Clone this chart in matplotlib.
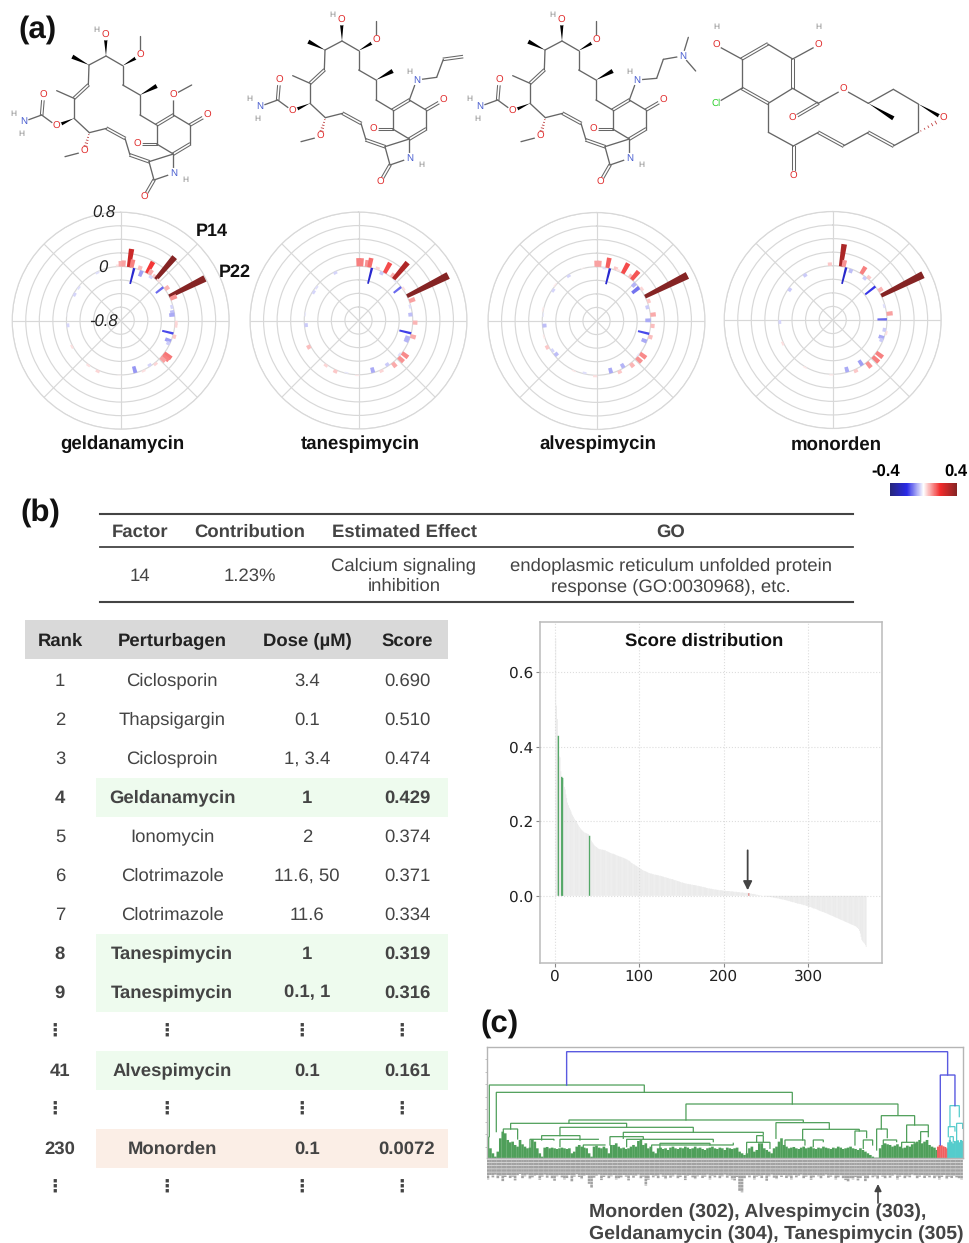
import numpy as np
import matplotlib
matplotlib.use('Agg')
import matplotlib.pyplot as plt
from matplotlib.patches import Polygon, Rectangle
from matplotlib.cm import ScalarMappable
from matplotlib.colors import Normalize, LinearSegmentedColormap

W, H = 969, 1243
plt.rcParams['font.family'] = ['Liberation Sans', 'DejaVu Sans']
plt.rcParams['text.hinting'] = 'none'
plt.rcParams['text.hinting_factor'] = 8

# ---- radial bars: factor index (clockwise from north, 125 positions) / loading
gel_idx = [124, 0, 1, 3, 4, 5, 7, 8, 10, 11, 12, 13, 14, 15, 18, 19, 22, 23, 26, 28, 29, 32, 33, 36, 37, 39, 40,
           44, 45, 46, 51, 49, 57, 54, 63, 71, 75, 84, 92, 96, 104, 107, 116]
gel_val = [0.03, 0.08, 0.09, 0.27, 0.12, -0.24, 0.06, -0.09, 0.19, 0.08, -0.04, 0.05, 0.43, 0.03, -0.14, 0.07, 0.59,
           0.10, -0.04, -0.06, -0.08, 0.04, 0.04, -0.17, 0.05, -0.09, -0.05, 0.13, 0.12, 0.09, -0.04, 0.04, -0.10,
           0.03, 0.01, 0.04, 0.03, 0.03, -0.04, -0.01, -0.04, -0.03, -0.03]
tan_idx = [0, 1, 3, 4, 5, 7, 9, 10, 13, 14, 15, 18, 19, 22, 24, 26, 29, 32, 36, 37, 38, 39, 44, 45, 46, 49, 51, 54,
           57, 63, 67, 71, 75, 84, 92, 96, 105, 107, 116]
tan_val = [0.12, 0.12, 0.10, 0.14, -0.24, 0.04, -0.05, 0.17, 0.07, 0.32, -0.02, -0.14, 0.03, 0.68, 0.09, -0.03, -0.06,
           0.07, -0.18, 0.08, -0.07, -0.07, 0.11, -0.03, 0.10, 0.08, -0.05, 0.04, -0.08, 0.02, -0.02, 0.05, 0.04,
           0.06, -0.05, -0.02, -0.04, -0.03, -0.04]
alv_idx = [0, 1, 3, 4, 5, 7, 8, 10, 13, 14, 16, 18, 19, 22, 24, 26, 29, 31, 33, 36, 37, 39, 44, 45, 46, 49, 52, 54,
           57, 63, 67, 71, 80, 82, 84, 88, 92, 96, 98, 106, 108, 114, 120]
alv_val = [0.09, 0.09, -0.03, 0.15, -0.24, 0.05, 0.03, 0.17, 0.06, 0.16, -0.07, -0.13, 0.04, 0.70, 0.05, -0.05, 0.08,
           -0.08, 0.06, -0.17, 0.06, -0.08, 0.11, -0.02, 0.10, 0.07, -0.07, 0.05, -0.08, 0.03, -0.03, 0.02, -0.06,
           -0.04, 0.05, 0.02, -0.06, -0.02, 0.02, -0.04, 0.02, -0.04, 0.01]
mon_idx = [124, 3, 4, 5, 7, 11, 13, 14, 18, 20, 22, 26, 29, 31, 35, 36, 38, 39, 44, 46, 49, 51, 54, 57, 63, 73, 85,
           93, 106, 114]
mon_val = [0.05, 0.33, 0.10, -0.25, -0.06, 0.12, -0.05, 0.05, -0.19, 0.07, 0.69, -0.03, 0.09, -0.14, -0.05, 0.03,
           -0.08, -0.05, 0.12, 0.12, 0.10, -0.09, 0.05, -0.08, 0.02, 0.02, 0.03, -0.04, -0.05, -0.05]
compounds = ['geldanamycin', 'tanespimycin', 'alvespimycin', 'monorden']

# ---- tables
top_head = ['Factor', 'Contribution', 'Estimated Effect', 'GO']
top_body = ['14', '1.23%', 'Calcium signaling\ninhibition',
            'endoplasmic reticulum unfolded protein\nresponse (GO:0030968), etc.']
rank_head = ['Rank', 'Perturbagen', 'Dose (\u00b5M)', 'Score']
ranks = ['1', '2', '3', '4', '5', '6', '7', '8', '9', '\u22ee', '41', '\u22ee', '230', '\u22ee']
perts = ['Ciclosporin', 'Thapsigargin', 'Ciclosproin', 'Geldanamycin', 'Ionomycin', 'Clotrimazole', 'Clotrimazole',
         'Tanespimycin', 'Tanespimycin', '\u22ee', 'Alvespimycin', '\u22ee', 'Monorden', '\u22ee']
doses = ['3.4', '0.1', '1, 3.4', '1', '2', '11.6, 50', '11.6', '1', '0.1, 1', '\u22ee', '0.1', '\u22ee', '0.1', '\u22ee']
table_scores = ['0.690', '0.510', '0.474', '0.429', '0.374', '0.371', '0.334', '0.319', '0.316', '\u22ee', '0.161',
                '\u22ee', '0.0072', '\u22ee']
bold_rows = [3, 7, 8, 10, 12]

# ---- score distribution (rank 1..369)
scores = [.690,.510,.474,.429,.374,.371,.334,.319,.316,.300,
 .292,.285,.272,.262,.250,.243,.236,.231,.226,.220,
 .216,.212,.207,.203,.200,.197,.193,.189,.185,.181,
 .178,.176,.174,.172,.170,.169,.168,.167,.166,.165,
 .161,.153,.148,.144,.141,.138,.135,.133,.131,.129,
 .127,.126,.125,.125,.124,.124,.123,.123,.122,.122,
 .120,.119,.118,.117,.116,.115,.114,.113,.113,.112,
 .111,.110,.109,.108,.107,.106,.105,.105,.104,.103,
 .102,.101,.100,.099,.098,.097,.095,.094,.092,.090,
 .088,.087,.085,.084,.082,.081,.080,.078,.077,.075,
 .073,.072,.071,.069,.068,.067,.066,.065,.064,.063,
 .062,.061,.060,.060,.059,.058,.058,.057,.057,.056,
 .056,.055,.055,.054,.054,.053,.052,.052,.051,.050,
 .050,.049,.048,.048,.047,.046,.046,.045,.045,.044,
 .043,.042,.042,.041,.040,.039,.039,.038,.037,.036,
 .036,.035,.034,.034,.033,.033,.032,.032,.031,.031,
 .031,.030,.030,.029,.029,.029,.028,.028,.027,.027,
 .026,.026,.025,.025,.024,.024,.023,.023,.022,.021,
 .021,.020,.020,.019,.019,.019,.018,.018,.017,.017,
 .017,.016,.016,.016,.015,.015,.015,.015,.014,.014,
 .014,.014,.013,.013,.013,.013,.013,.012,.012,.012,
 .012,.011,.011,.011,.011,.010,.010,.010,.010,.009,
 .009,.009,.009,.008,.008,.008,.008,.008,.007,.0072,
 .007,.006,.006,.005,.005,.005,.004,.004,.003,.003,
 .002,.002,.001,.001,.001,.000,.000,-.001,-.001,-.001,
 -.002,-.002,-.002,-.003,-.003,-.003,-.004,-.004,-.005,-.005,
 -.005,-.006,-.006,-.007,-.007,-.008,-.008,-.009,-.009,-.010,
 -.010,-.011,-.011,-.012,-.012,-.013,-.014,-.014,-.015,-.016,
 -.016,-.017,-.017,-.018,-.019,-.019,-.020,-.021,-.021,-.022,
 -.022,-.023,-.023,-.024,-.025,-.025,-.026,-.027,-.027,-.028,
 -.029,-.030,-.030,-.031,-.032,-.033,-.034,-.034,-.035,-.036,
 -.037,-.038,-.039,-.040,-.041,-.042,-.043,-.043,-.044,-.045,
 -.046,-.047,-.048,-.049,-.050,-.051,-.052,-.053,-.054,-.055,
 -.056,-.057,-.058,-.059,-.060,-.061,-.062,-.063,-.064,-.065,
 -.066,-.067,-.068,-.069,-.070,-.071,-.072,-.073,-.074,-.075,
 -.076,-.077,-.078,-.079,-.080,-.081,-.082,-.084,-.086,-.089,
 -.094,-.101,-.110,-.118,-.122,-.125,-.128,-.132,-.137]
green_ranks = [4, 8, 9, 41]
red_ranks = [230]

# ---- dendrogram links: left x, right x, merge depth, left leg end, right leg end
green_links = [(28,493,240,395,262), (49,937,262,380,297), (618,1254,297,345,330), (267,970,345,355,352),
               (92,440,355,372,367), (70,113,372,405,402), (240,640,367,392,382), (185,300,392,405,405),
               (150,222,403,430,405), (430,850,382,400,388), (390,490,395,420,402), (440,700,403,425,410),
               (240,355,403,425,403), (310,375,420,440,420), (515,760,420,440,415), (540,690,415,440,420),
               (830,850,392,410,410), (800,870,412,445,430), (888,1048,353,400,372), (968,1138,373,405,378),
               (1000,1030,405,425,410), (915,975,405,425,420), (1125,1160,378,420,398), (1150,1178,405,430,420),
               (1204,1304,332,372,360), (1190,1222,372,435,398), (1210,1250,405,430,410), (1280,1345,360,410,380),
               (1265,1305,412,430,425), (1322,1345,380,410,395)]
blue_links = [(260,1403,140,240,210), (1381,1425,210,420,302)]
cyan_links = [(1410,1438,302,365,335), (1405,1425,365,395,378), (1430,1448,355,410,370), (1410,1420,395,410,410)]
# leaf cluster tops, one for each 7.4 units from x=24
leaf_tops = [395,430,445,455,440,400,380,385,405,412,410,
 420,425,405,418,425,430,428,402,410,430,
 445,455,428,426,430,428,430,432,430,428,
 430,432,430,445,440,425,420,425,428,430,
 445,455,425,422,428,430,425,430,445,420,
 420,415,425,430,428,432,430,425,420,425,
 408,405,420,415,430,425,440,445,430,428,
 432,430,435,428,425,430,432,428,430,425,
 428,432,430,425,430,428,432,435,430,428,
 425,430,432,428,430,435,428,430,432,430,
 428,440,445,450,445,430,425,440,435,415,
 415,430,435,440,445,430,425,410,400,420,
 425,430,428,426,430,432,428,425,430,428,
 425,430,432,428,430,425,428,430,432,428,
 430,425,428,432,430,428,425,430,432,435,
 430,435,440,445,450,455,458,458,430,420,
 415,418,420,425,422,418,425,430,428,422,
 425,418,415,410,405,415,410,405,420,425,428,435]
red_tops = [425,420,421,424,426,430]
cyan_tops = [412,405,410,415,408,410,406,412,405,408]
# how far the unreadable rotated leaf names reach
label_ends = [522,510,516,508,520,512,527,515,509,518,514,525,511,506,519,513,508,521,516,512,
 510,523,514,508,517,511,520,526,513,509,516,522,518,510,528,514,507,515,521,512,
 510,535,546,517,512,508,524,515,511,519,513,510,522,520,516,509,514,525,511,517,
 512,508,520,514,540,523,510,516,512,519,508,514,521,511,517,513,508,520,515,510,
 524,512,509,516,521,513,510,518,514,508,522,512,516,510,519,513,508,517,512,522,
 525,515,556,560,520,511,516,509,522,514,512,518,510,526,513,508,517,521,511,515,
 509,518,513,522,510,516,512,508,519,514,511,523,516,509,513,520,512,508,517,514,
 510,522,516,511,519,524,528,520,522,515,525,518,512,527,519,510,516,513,521,509,
 514,520,511,517,512,508,522,514,510,519,513,516,508,511,520,514,509,518,512,516,
 510,519,513,522,515,510,521,514,518,512,516,520,522]

# ---- molecules, in zoomed pixels of the geldanamycin drawing
core_pts = dict(
    N1=(70,365), C0=(125,345), O0=(130,285), O1=(170,378), C1=(222,355), C2=(222,295), M2=(170,272), C3=(265,255),
    C4=(267,195), M4=(217,170), C5=(318,168), O5=(317,105), C6=(368,197), O6=(420,167), M6=(420,107), C7=(368,255),
    C8=(420,285), M8=(470,258), C9=(420,345), C10=(470,375), C11=(520,345), C12=(570,375), O12=(622,345),
    C13=(570,432), C14=(520,462), C15=(470,432), O15=(412,432), N2=(520,520), C16=(462,540), O16=(432,592),
    C17=(447,485), C18=(390,465), C19=(375,415), C20=(320,385), C21=(268,398), O21=(252,455), M21=(195,470))
core_single = [('N1','C0'),('C0','O1'),('C1','C2'),('C2','M2'),('C3','C4'),('C4','C5'),('C5','C6'),('C6','C7'),
               ('C7','C8'),('C8','C9'),('C9','C10'),('C11','C12'),('C12','C13'),('C10','C15'),('C14','C15'),
               ('C14','N2'),('N2','C16'),('C16','C17'),('C17','C14'),('C18','C19'),('C20','C21'),('C21','C1'),
               ('O21','M21'),('O6','M6')]
core_double = [('C0','O0'),('C2','C3'),('C10','C11'),('C12','O12'),('C13','C14'),('C15','O15'),('C16','O16'),
               ('C17','C18'),('C19','C20')]
core_wedge = [('C1','O1'),('C4','M4'),('C5','O5'),('C6','O6'),('C8','M8')]
core_hash = [('C21','O21')]
core_labels = [('N1','N','#4a5fd0'),('O0','O','#e03030'),('O1','O','#e03030'),('O5','O','#e03030'),
               ('O6','O','#e03030'),('O12','O','#e03030'),('O15','O','#e03030'),('N2','N','#4a5fd0'),
               ('O16','O','#e03030'),('O21','O','#e03030')]
core_h = [(40,343),(65,402),(288,90),(555,540)]

mon_pts = dict(A=(143,132), B=(218,177), C=(218,265), D=(145,310), E=(65,265), F=(65,177), OB=(295,135),
               OF=(-12,135), CL=(-12,310), E1=(295,310), E2=(218,355), E3=(370,268), E4=(445,310), E5=(520,355),
               E6=(520,268), E7=(595,312), E8=(670,355), E9=(595,397), E10=(520,438), E11=(445,397), E12=(370,438),
               E13=(295,397), E14=(220,438), E15=(220,528), E16=(145,397))
mon_single = [('A','B'),('C','D'),('E','F'),('B','OB'),('F','OF'),('E','CL'),('C','E1'),('E1','E3'),('E3','E4'),
              ('E4','E6'),('E6','E7'),('E7','E9'),('E9','E10'),('E11','E12'),('E13','E14'),('E14','E16'),('E16','D')]
mon_double = [('A','F'),('B','C'),('D','E'),('E1','E2'),('E10','E11'),('E12','E13'),('E14','E15')]
mon_wedge = [('E4','E5'),('E7','E8')]
mon_hash = [('E9','E8')]
mon_labels = [('OB','O','#e03030'),('OF','O','#e03030'),('CL','Cl','#30d030'),('E2','O','#e03030'),
              ('E3','O','#e03030'),('E8','O','#e03030'),('E15','O','#e03030')]

fig = plt.figure(figsize=(W / 100, H / 100), dpi=100)


def px_axes(x0, y0, x1, y1, **kw):
    return fig.add_axes([x0 / W, 1 - y1 / H, (x1 - x0) / W, (y1 - y0) / H], **kw)


bg = px_axes(0, 0, W, H)
bg.set_xlim(0, W)
bg.set_ylim(H, 0)
bg.axis('off')
# labels that sit on top of the radial panels
fg = px_axes(0, 0, W, H, zorder=10)
fg.set_xlim(0, W)
fg.set_ylim(H, 0)
fg.axis('off')
BOND = '#666666'


def draw_mol(pts, single, double, wedge, hashed, labels, ox, oy, extra_h=()):
    to_px = lambda p: (ox + p[0] / 3, oy + p[1] / 3)
    for a, b in single:
        p, q = to_px(pts[a]), to_px(pts[b])
        bg.plot([p[0], q[0]], [p[1], q[1]], color=BOND, lw=0.95, zorder=2, solid_capstyle='round')
    for a, b in double:
        p, q = np.array(to_px(pts[a])), np.array(to_px(pts[b]))
        n = np.array([q[1] - p[1], p[0] - q[0]])
        n = n / np.hypot(*n) * 1.3
        for s in (-1, 1):
            bg.plot([p[0] + s * n[0], q[0] + s * n[0]], [p[1] + s * n[1], q[1] + s * n[1]], color=BOND, lw=0.75, zorder=2)
    for a, b in wedge:
        p, q = np.array(to_px(pts[a])), np.array(to_px(pts[b]))
        n = np.array([q[1] - p[1], p[0] - q[0]])
        n = n / np.hypot(*n) * 2.2
        bg.add_patch(Polygon([p, q + n, q - n], color='black', lw=0, zorder=2))
    for a, b in hashed:
        p, q = np.array(to_px(pts[a])), np.array(to_px(pts[b]))
        n = np.array([q[1] - p[1], p[0] - q[0]])
        n = n / np.hypot(*n) * 2.2
        for t in np.linspace(0.1, 0.85, 6):
            c = p + (q - p) * t
            bg.plot([c[0] - n[0] * t, c[0] + n[0] * t], [c[1] - n[1] * t, c[1] + n[1] * t], color='#c04040', lw=0.6, zorder=2)
    for key, txt, col in labels:
        x, y = to_px(pts[key])
        bg.text(x, y, txt, color=col, fontsize=7, ha='center', va='center', zorder=3,
                bbox=dict(boxstyle='circle,pad=0.08', fc='white', ec='none'))
    for p in extra_h:
        x, y = to_px(p)
        bg.text(x, y, 'H', color='#888888', fontsize=6, ha='center', va='center', zorder=3)


# geldanamycin with its methoxy
gel_pts = dict(core_pts, O11=(520,285), M11=(575,255))
draw_mol(gel_pts, core_single + [('C11','O11'),('O11','M11')], core_double, core_wedge, core_hash,
         core_labels + [('O11','O','#e03030')], 0, 0, core_h)

# tanespimycin: allylamine on the quinone
tan_pts = dict(core_pts, NS=(542,285), S1=(602,277), S2=(622,223), S3=(680,215))
draw_mol(tan_pts, core_single + [('C11','NS'),('NS','S1'),('S1','S2')], core_double + [('S2','S3')], core_wedge,
         core_hash, core_labels + [('NS','N','#4a5fd0')], 240 - 4, -15, core_h + [(519,260)])

# alvespimycin: dimethylaminoethyl amine
alv_pts = dict(core_pts, NS=(542,285), S1=(602,280), S2=(622,223), NT=(680,213), T1=(697,157), T2=(719,258))
draw_mol(alv_pts, core_single + [('C11','NS'),('NS','S1'),('S1','S2'),('S2','NT'),('NT','T1'),('NT','T2')],
         core_double, core_wedge, core_hash, core_labels + [('NS','N','#4a5fd0'),('NT','N','#4a5fd0')],
         470 - 14, -15, core_h + [(520,260)])

draw_mol(mon_pts, mon_single, mon_double, mon_wedge, mon_hash, mon_labels, 720, 0, [(295,82),(-10,82)])

# ---- radial panels
cmap = LinearSegmentedColormap.from_list('key', ['#26267a', '#2a2ae6', '#ffffff', '#f22c2c', '#852424'])
norm = Normalize(-0.4, 0.4)
centres = [(120.7, 320.7), (358.5, 320.5), (596.5, 321), (832.7, 320)]
name_x = [122, 360, 598, 836]
rad = 108.5
for (cx, cy), idx, val, name, nx in zip(centres, [gel_idx, tan_idx, alv_idx, mon_idx],
                                        [gel_val, tan_val, alv_val, mon_val], compounds, name_x):
    ax = px_axes(cx - rad, cy - rad, cx + rad, cy + rad, projection='polar')
    ax.set_theta_zero_location('N')
    ax.set_theta_direction(-1)
    ax.set_ylim(-0.8, 0.8)
    ax.set_yticks(np.arange(-0.8, 0.81, 0.2))
    ax.set_xticks(np.deg2rad(np.arange(0, 360, 45)))
    ax.set_xticklabels([])
    ax.set_yticklabels([])
    ax.grid(True, color='#d8d8d8', lw=0.85)
    ax.spines['polar'].set_color('#d8d8d8')
    ax.spines['polar'].set_linewidth(0.85)
    ax.set_axisbelow(True)
    ax.patch.set_alpha(0)
    theta = np.deg2rad(np.array(idx) * 2.88)
    widths = np.deg2rad([2.6 if v < -0.13 else 4.2 for v in val])
    ax.bar(theta, val, width=widths, bottom=0, color=cmap(norm(val)), lw=0)
    bg.text(nx, 444.5, name, fontsize=13.4, fontweight='bold', ha='center', va='center', color='#111111')

for txt, x, y in [('0.8', 115, 213), ('0', 108, 268), ('-0.8', 118, 322)]:
    fg.text(x, y, txt, fontsize=12, style='italic', ha='right', va='center', color='#222222')
fg.text(212, 231, 'P14', fontsize=13, fontweight='bold', ha='center', va='center', color='#111111')
fg.text(235, 272, 'P22', fontsize=13, fontweight='bold', ha='center', va='center', color='#111111')

# colour key
cax = px_axes(890, 483, 957, 496)
cb = fig.colorbar(ScalarMappable(norm=norm, cmap=cmap), cax=cax, orientation='horizontal')
cb.set_ticks([])
cb.outline.set_visible(False)
bg.text(886, 472, '-0.4', fontsize=12, fontweight='bold', ha='center', va='center')
bg.text(956, 472, '0.4', fontsize=12, fontweight='bold', ha='center', va='center')

# panel letters
for txt, x, y in [('(a)', 38, 30), ('(b)', 40, 513), ('(c)', 500, 1024)]:
    bg.text(x, y, txt, fontsize=22.5, fontweight='bold', ha='center', va='center', color='#111111')

# ---- factor table
TXT = '#444444'
for y, lw in [(514, 1.5), (547, 1.3), (602, 1.5)]:
    bg.plot([100, 853], [y, y], color='#444444', lw=lw, zorder=2)
for txt, body, x in zip(top_head, top_body, [140, 250, 404, 671]):
    bg.text(x, 532, txt, fontsize=13.3, fontweight='bold', ha='center', va='center', color=TXT)
    bg.text(x, 576, body, fontsize=13.3, ha='center', va='center', color=TXT, linespacing=1.28)

# ---- rank table
bg.add_patch(Rectangle((25, 620), 423, 39, fc='#d9d9d9', ec='none', zorder=1))
for txt, x in zip(rank_head, [60, 172, 307, 407]):
    bg.text(x, 641, txt, fontsize=13.3, fontweight='bold', ha='center', va='center', color='#222222')
for i in range(len(ranks)):
    y = 680 + 39 * i
    is_bold = i in bold_rows
    if is_bold:
        fill = '#fbeee6' if ranks[i] == '230' else '#eefbee'
        bg.add_patch(Rectangle((96, y - 19.5), 352, 39, fc=fill, ec='none', zorder=1))
    for col, x in zip([ranks, perts, doses, table_scores], [60, 172, 307, 407]):
        dots = col[i] == '\u22ee'
        bg.text(x - 5 if dots else x, y + 1, col[i], fontsize=13.3, fontweight='bold' if is_bold or dots else 'normal',
                ha='center', va='center', color=TXT)

# ---- score distribution
sax = px_axes(539.5, 622, 881.7, 963)
x_rank = np.arange(1, len(scores) + 1)
bar_cols = ['#dddddd'] * len(scores)
for r in green_ranks:
    bar_cols[r - 1] = '#55a868'
for r in red_ranks:
    bar_cols[r - 1] = '#e08080'
bar_w = [1.7 if c != '#dddddd' else 0.58 for c in bar_cols]
sax.bar(x_rank, scores, width=bar_w, color=bar_cols, lw=0, zorder=2, snap=False)
sax.set_xlim(-18.4, 387.5)
sax.set_ylim(-0.18, 0.734)
sax.set_xticks([0, 100, 200, 300])
sax.set_yticks([0, 0.2, 0.4, 0.6])
sax.set_yticklabels(['0.0', '0.2', '0.4', '0.6'])
sax.tick_params(labelsize=11, length=3, color='#888888', labelcolor='#222222', pad=1.5)
for lab in sax.get_xticklabels() + sax.get_yticklabels():
    lab.set_family('DejaVu Sans')
sax.grid(True, ls=':', color='#dddddd', lw=0.8, zorder=0)
for s in sax.spines.values():
    s.set_color('#bbbbbb')
    s.set_linewidth(1.1)
sax.text(0.48, 0.943, 'Score distribution', transform=sax.transAxes, fontsize=13.3, fontweight='bold', ha='center',
         va='center', color='#111111')
sax.annotate('', xy=(228.5, 0.015), xytext=(228.5, 0.122),
             arrowprops=dict(arrowstyle='-|>', color='#444444', lw=1.3, mutation_scale=13, shrinkA=0, shrinkB=0))

# ---- dendrogram
dax = px_axes(487.3, 1046.7, 963.3, 1158.3)
dax.set_xlim(22, 1450)
dax.set_ylim(460, 125)
GREEN, BLUE, CYAN, RED = '#4f9f5a', '#5a5ae0', '#55cccc', '#f06060'
leaf_x = 24 + 7.4 * np.arange(len(leaf_tops))
dax.vlines(leaf_x, 460, leaf_tops, color=GREEN, lw=1.9, snap=False)
dax.vlines(1374 + 5.5 * np.arange(len(red_tops)), 460, red_tops, color=RED, lw=1.5, snap=False)
dax.vlines(1405 + 4.8 * np.arange(len(cyan_tops)), 460, cyan_tops, color=CYAN, lw=1.6, snap=False)
for links, col, lw in [(green_links, GREEN, 0.9), (cyan_links, CYAN, 0.9), (blue_links, BLUE, 1.0)]:
    for xl, xr, y, yl, yr in links:
        dax.plot([xl, xl, xr, xr], [yl, y, y, yr], color=col, lw=lw, solid_joinstyle='miter', snap=False)
dax.set_xticks([])
dax.set_yticks(np.arange(125, 460, 37.5)[1:])
dax.set_yticklabels([])
dax.tick_params(axis='y', length=1.5, width=0.5, color='#aaaaaa')
for s in dax.spines.values():
    s.set_color('#b5b5b5')
    s.set_linewidth(1.0)

lax = px_axes(487.3, 1159, 963.3, 1193)
lax.set_xlim(22, 1450)
lax.set_ylim(562, 462)
lax.axis('off')
lax.vlines(24 + 7.4 * np.arange(len(label_ends)), 464, label_ends, color='#a2a2a2', lw=1.9,
           linestyles=(0, (1.0, 0.2)), snap=False)

bg.annotate('', xy=(878, 1184), xytext=(878, 1203),
            arrowprops=dict(arrowstyle='-|>', color='#444444', lw=1.2, mutation_scale=10, shrinkA=0, shrinkB=0))
bg.text(589, 1212, 'Monorden (302), Alvespimycin (303),', fontsize=14, fontweight='bold', ha='left', va='center', color=TXT)
bg.text(589, 1234, 'Geldanamycin (304), Tanespimycin (305)', fontsize=14, fontweight='bold', ha='left', va='center', color=TXT)

fig.savefig('out.png', dpi=100)
